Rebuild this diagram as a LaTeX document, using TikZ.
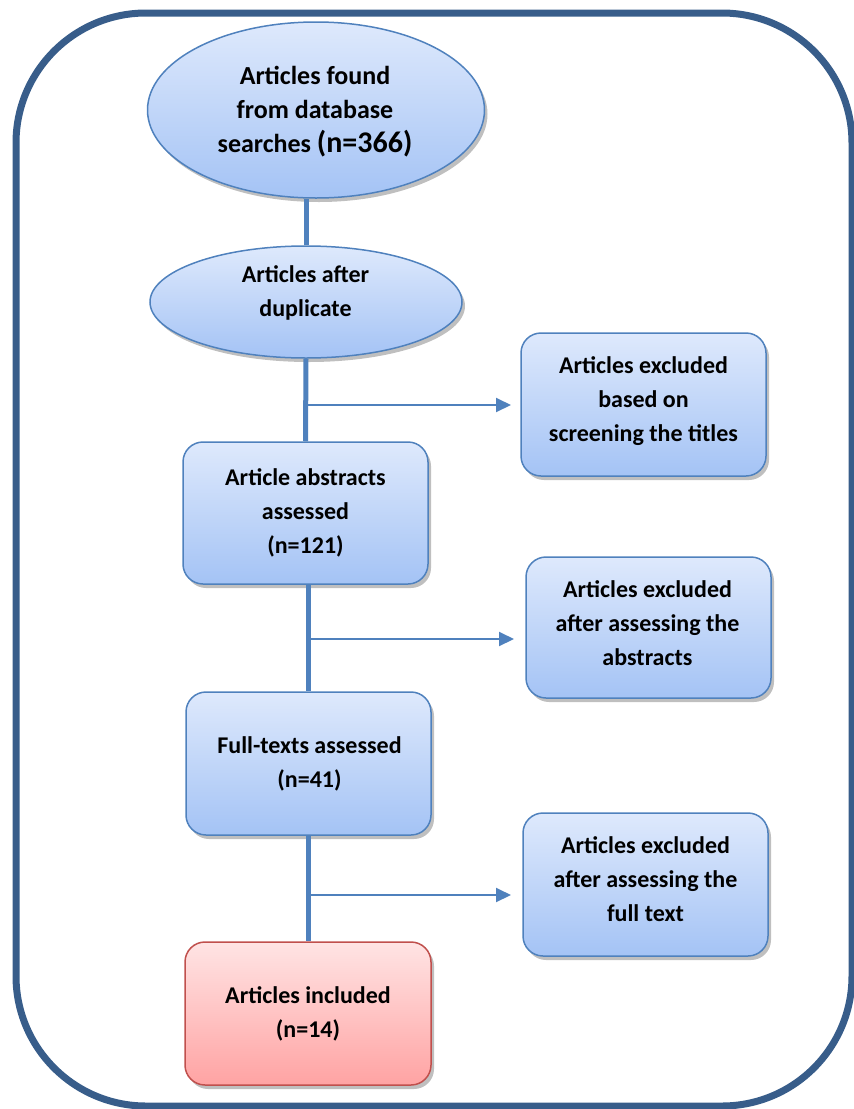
\documentclass[tikz,border=0pt]{standalone}
\usepackage{fontspec}
\setmainfont{Carlito}
\usetikzlibrary{shapes.geometric,shadows,arrows.meta}
\definecolor{framec}{RGB}{56,93,138}
\definecolor{linec}{RGB}{79,129,189}
\definecolor{btop}{RGB}{222,233,252}
\definecolor{bbot}{RGB}{164,195,245}
\definecolor{rtop}{RGB}{255,228,228}
\definecolor{rbot}{RGB}{255,163,163}
\definecolor{redline}{RGB}{192,80,77}
\tikzset{
  shad/.style={drop shadow={shadow xshift=3pt,shadow yshift=-4pt,opacity=0.25,fill=black}},
  bluebox/.style={rectangle,draw=linec,line width=1.5pt,top color=btop,bottom color=bbot,rounded corners=20pt,shad,inner sep=0pt},
  redbox/.style={rectangle,draw=redline,line width=1.5pt,top color=rtop,bottom color=rbot,rounded corners=20pt,shad,inner sep=0pt},
  blueoval/.style={ellipse,draw=linec,line width=1.5pt,top color=btop,bottom color=bbot,shad,inner sep=0pt},
  txt/.style={font=\fontsize{24}{34}\selectfont\bfseries,align=center,anchor=north,inner sep=0pt},
  bigtxt/.style={font=\fontsize{26}{34}\selectfont\bfseries,align=center,anchor=north,inner sep=0pt},
  trunk/.style={draw=linec,line width=5pt},
  branch/.style={draw=linec,line width=2pt,-{Triangle[length=15pt,width=14pt]}},
  frame/.style={draw=framec,line width=7pt,rounded corners=130pt},
}
\begin{document}
\begin{tikzpicture}[x=1pt,y=-1pt]
\useasboundingbox (0,0) rectangle (854,1109);
\draw[frame] (16,13) rectangle (852,1106);

% nodes
\node[blueoval,minimum width=337pt,minimum height=176pt] (e1) at (316,110) {};
\node[blueoval,minimum width=312pt,minimum height=112pt] (e2) at (306,302) {};
\node[bluebox,minimum width=245pt,minimum height=142pt] (b3) at (305.5,513) {};
\node[bluebox,minimum width=245pt,minimum height=143pt] (b4) at (308.5,763.5) {};
\node[redbox,minimum width=246pt,minimum height=143pt] (b5) at (308,1013.5) {};
\node[bluebox,minimum width=245pt,minimum height=143pt] (r1) at (643.5,404.5) {};
\node[bluebox,minimum width=245pt,minimum height=141pt] (r2) at (648.5,627.5) {};
\node[bluebox,minimum width=245pt,minimum height=143pt] (r3) at (645.5,884.5) {};

% texts
\node[bigtxt] (e1t) at (315,60.2) {\strut Articles found\\from database\\searches {\fontsize{30}{34}\selectfont (n=366)}};
\node[txt] (e2t) at (305.5,258.7) {\strut Articles after\\duplicate};
\node[txt] (b3t) at (305.5,461.7) {\strut Article abstracts\\assessed\\(n=121)};
\node[txt] (b4t) at (309.5,729.7) {\strut Full-texts assessed\\(n=41)};
\node[txt] (b5t) at (308,979.7) {\strut Articles included\\(n=14)};
\node[txt] (r1t) at (643.5,349.7) {\strut Articles excluded\\based on\\screening the titles};
\node[txt] (r2t) at (647.5,573.7) {\strut Articles excluded\\after assessing the\\abstracts};
\node[txt] (r3t) at (645.5,829.7) {\strut Articles excluded\\after assessing the\\full text};

% connectors
\draw[trunk] (e2.north) -- (e2.north |- e1.south);
\draw[trunk] (e2.south) -- (b3.north);
\draw[trunk] ([xshift=2.5pt]b3.south) -- ([xshift=-0.5pt]b4.north);
\draw[trunk] ([xshift=-0.5pt]b4.south) -- (b5.north);

\coordinate (j1) at (306,405);
\coordinate (t1) at (511,405);
\coordinate (j2) at (308,639);
\coordinate (t2) at (514,639);
\coordinate (j3) at (308,895);
\coordinate (t3) at (511,895);
\draw[branch] (j1) -- (t1);
\draw[branch] (j2) -- (t2);
\draw[branch] (j3) -- (t3);
\end{tikzpicture}
\end{document}
